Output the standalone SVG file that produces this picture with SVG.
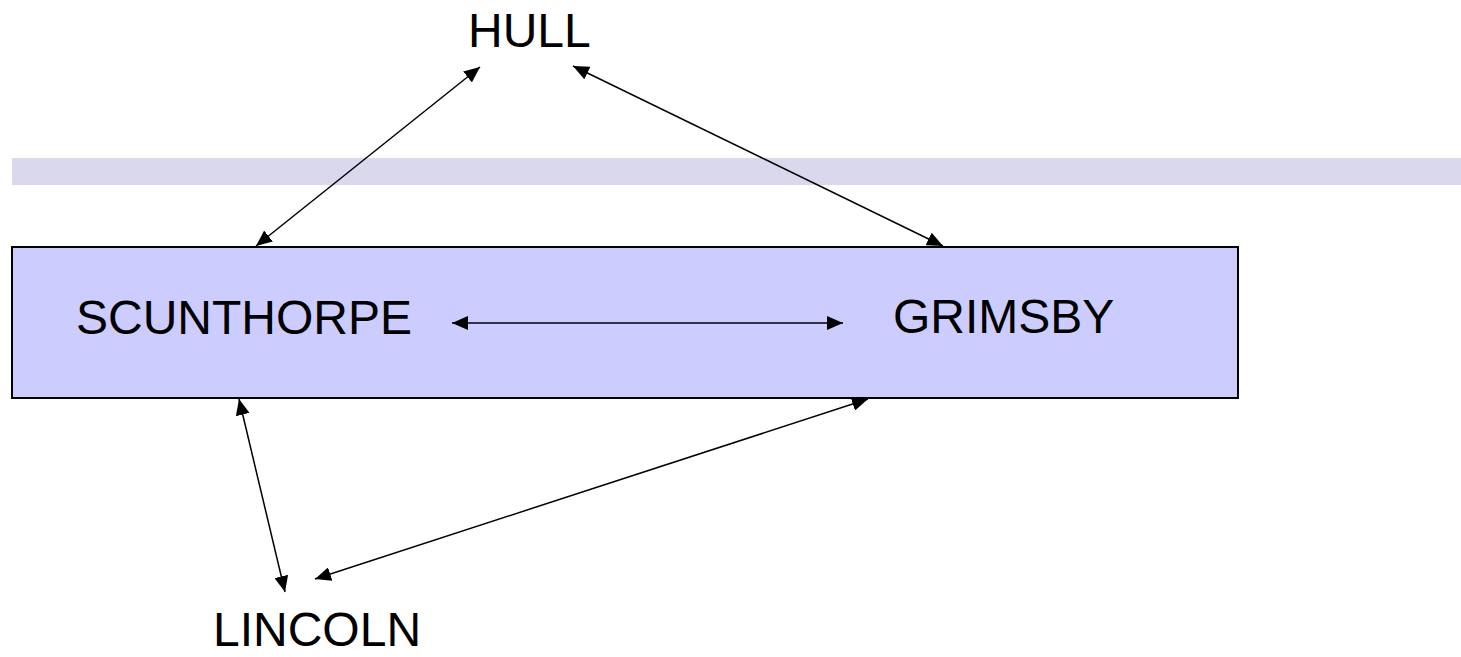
<svg xmlns="http://www.w3.org/2000/svg" width="1461" height="657" viewBox="0 0 1461 657">
<style>
.lbl{font-family:"Liberation Sans",Arial,sans-serif;font-size:48px;fill:#000}
.conn{stroke:#000;stroke-width:1.5;fill:none;marker-start:url(#ah);marker-end:url(#ah)}
</style>
<defs>
<marker id="ah" viewBox="0 0 16 14" refX="16" refY="7" markerWidth="16" markerHeight="14" markerUnits="userSpaceOnUse" orient="auto-start-reverse">
<path d="M0,0 L16,7 L0,14 z" fill="#000"/>
</marker>
</defs>
<rect width="1461" height="657" fill="#fff"/>
<rect id="band" x="12" y="158" width="1449" height="27" fill="#dad8ed"/>
<g id="region">
<rect x="12" y="247" width="1226" height="151" fill="#ccccff" stroke="#000" stroke-width="2"/>
</g>
<g id="connectors">
<line class="conn" x1="480" y1="67" x2="256" y2="246"/>
<line class="conn" x1="573" y1="66" x2="943" y2="246"/>
<line class="conn" x1="452" y1="323" x2="843" y2="323"/>
<line class="conn" x1="239" y1="399" x2="285" y2="592"/>
<line class="conn" x1="868" y1="399" x2="315" y2="579"/>
</g>
<g id="hull"><text class="lbl" x="468" y="47">HULL</text></g>
<g id="scunthorpe"><text class="lbl" x="76" y="334">SCUNTHORPE</text></g>
<g id="grimsby"><text class="lbl" x="893" y="333">GRIMSBY</text></g>
<g id="lincoln"><text class="lbl" x="213" y="646">LINCOLN</text></g>
</svg>
